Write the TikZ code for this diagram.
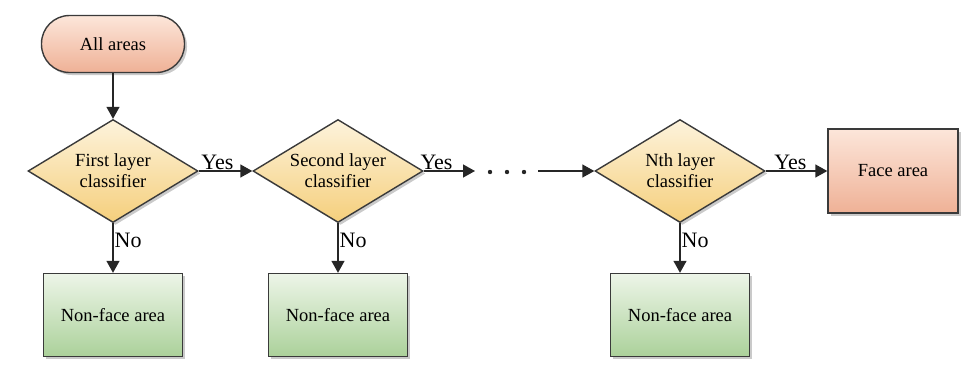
\documentclass[tikz,border=0pt]{standalone}
\usepackage{fontspec}
\setmainfont{Liberation Serif}
\newfontfamily\diagfont{Liberation Serif}
\usetikzlibrary{shapes.geometric,arrows.meta,shadows}
\definecolor{pinkT}{HTML}{FCE6DA}
\definecolor{pinkB}{HTML}{EFB196}
\definecolor{yelT}{HTML}{FDF3DC}
\definecolor{yelB}{HTML}{F5CF7C}
\definecolor{grnT}{HTML}{EDF5E8}
\definecolor{grnB}{HTML}{ABD19A}
\definecolor{edge}{HTML}{3A3A3A}
\begin{document}
\begin{tikzpicture}[x=1pt,y=-1pt,
  textfont/.style={font=\diagfont\fontsize{18.5}{21}\selectfont,align=center},
  shape base/.style={draw=edge,line width=1.4pt,textfont,
    drop shadow={shadow xshift=2.5pt,shadow yshift=-2.5pt,fill=black!35,opacity=0.6}},
  terminal/.style={shape base,rectangle,rounded corners=28pt,minimum width=143pt,minimum height=57pt,top color=pinkT,bottom color=pinkB},
  decision/.style={shape base,diamond,inner sep=0pt,minimum width=170pt,minimum height=103pt,top color=yelT,bottom color=yelB},
  facebox/.style={shape base,rectangle,minimum width=130pt,minimum height=84pt,top color=pinkT,bottom color=pinkB},
  nonface/.style={shape base,rectangle,minimum width=139pt,minimum height=83pt,top color=grnT,bottom color=grnB},
  flow/.style={draw=black!85,line width=1.4pt,-{Triangle[length=12pt,width=13pt]}},
  lbl/.style={font=\diagfont\fontsize{22}{24}\selectfont,inner sep=1pt}
]
\useasboundingbox (0,0) rectangle (965,365);

\node[terminal] (all) at (113,44) {All areas};
\node[decision,label={[textfont]center:First layer\\classifier}] (d1) at (113,171) {};
\node[decision,label={[textfont]center:Second layer\\classifier}] (d2) at (338,171) {};
\node[decision,label={[textfont]center:Nth layer\\classifier}] (d3) at (680,171) {};
\node[facebox] (face) at (893,171) {Face area};
\node[nonface] (n1) at (113,315) {Non-face area};
\node[nonface] (n2) at (338,315) {Non-face area};
\node[nonface] (n3) at (680,315) {Non-face area};

\coordinate (dotsL) at (475,171);
\coordinate (dotsR) at (538,171);

\draw[flow] (all) -- (d1);
\draw[flow] (d1.east) -- node[lbl,above,pos=0.35] {Yes} (d2.west);
\draw[flow] (d2.east) -- node[lbl,above,pos=0.25] {Yes} (dotsL);
\draw[flow] (dotsR) -- (d3.west);
\draw[flow] (d3.east) -- node[lbl,above,pos=0.4] {Yes} (face.west);
\draw[flow] (d1.south) -- node[lbl,right,pos=0.35] {No} (n1.north);
\draw[flow] (d2.south) -- node[lbl,right,pos=0.35] {No} (n2.north);
\draw[flow] (d3.south) -- node[lbl,right,pos=0.35] {No} (n3.north);

\foreach \x in {490,507,524} \fill[black!85] (\x,172) circle (2.2pt);
\end{tikzpicture}
\end{document}
